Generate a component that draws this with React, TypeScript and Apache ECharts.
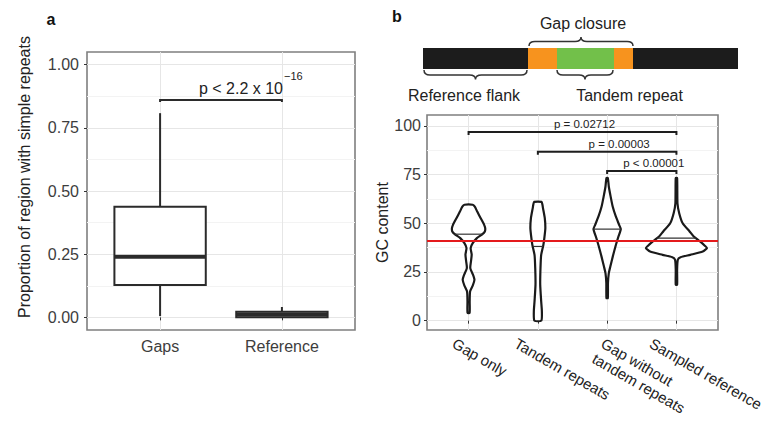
import React, { useEffect, useRef } from 'react';
import * as echarts from 'echarts';

// ---------- Panel a: boxplot data ----------
const boxCategories = ['Gaps', 'Reference'];
const boxMin = [0.005, 0.0];
const boxQ1 = [0.128, 0.0];
const boxMedian = [0.24, 0.011];
const boxQ3 = [0.438, 0.022];
const boxMax = [0.808, 0.041];
const boxYTicks = [0, 0.25, 0.5, 0.75, 1];
const boxYMinor = [0.125, 0.375, 0.625, 0.875];
const boxBracket = [1, 2, 0.86];
const boxPText = 'p < 2.2 x 10';
const boxPExp = '\u221216';

// ---------- Panel b: violin data ----------
const violinCategories = ['Gap only', 'Tandem repeats', 'Gap without\ntandem repeats', 'Sampled reference'];
// [GC content, half width (category units)]
const gapOnlyProfile = [[59.5, 0.06], [58.5, 0.09], [56, 0.125], [52.6, 0.175], [49.2, 0.225], [47.5, 0.24], [45.8, 0.235], [44.4, 0.2], [42.4, 0.12], [39.8, 0.06], [37.3, 0.03], [34, 0.045], [30.5, 0.035], [27, 0.025], [23, 0.07], [21, 0.085], [18, 0.06], [15, 0.022], [10, 0.016], [4, 0.015]];
const tandemProfile = [[61, 0.053], [59.5, 0.066], [57.8, 0.074], [52.6, 0.1], [47.5, 0.108], [43.2, 0.096], [39, 0.08], [33.8, 0.048], [27, 0.038], [18.5, 0.034], [9.9, 0.048], [4.8, 0.058], [0, 0.05]];
const gapWithoutProfile = [[73.2, 0.01], [68.9, 0.024], [63.8, 0.05], [58.6, 0.08], [53.5, 0.125], [49.2, 0.173], [47, 0.197], [43.2, 0.163], [38.1, 0.12], [33, 0.082], [27.8, 0.046], [24.4, 0.024], [19.3, 0.012], [11.6, 0.01]];
const sampledProfile = [[73.2, 0.01], [60.3, 0.015], [55.2, 0.04], [50, 0.09], [45.8, 0.19], [43.2, 0.25], [40.7, 0.34], [38.5, 0.41], [37.3, 0.44], [35.5, 0.38], [33.8, 0.2], [32.6, 0.06], [31.3, 0.02], [26.2, 0.01], [18.5, 0.01]];
const violinProfiles = [gapOnlyProfile, tandemProfile, gapWithoutProfile, sampledProfile];
const violinMedians = [44.4, 38.1, 47, 42.4];
const referenceGC = 40.9;
const gcTicks = [0, 25, 50, 75, 100];
const gcMinor = [12.5, 37.5, 62.5, 87.5];
const bracketStart = [1, 2, 3];
const bracketEnd = [4, 4, 4];
const bracketY = [96.9, 86.7, 76.9];
const bracketLabels = ['p = 0.02712', 'p = 0.00003', 'p < 0.00001'];

// ---------- layout / style ----------
const FONT = '"Liberation Sans", Arial, sans-serif';
const TEXT = '#222';
const TICK_TEXT = '#3d3d3d';
const GRID = '#e6e6e6';
const GRID_MINOR = '#f3f3f3';
const BORDER = '#7f7f7f';
const LINE = '#2b2b2b';
const xLabelNudge = [-10.4, -17.8, -0.4, -21.1];
const A_Y = [-0.05, 1.05];
const B_Y = [-4.8, 105.6];

function braceD(x0: number, x1: number, yEnd: number, yLine: number, yTip: number) {
  const xm = (x0 + x1) / 2;
  const r = 6;
  return `M${x0} ${yEnd} Q${x0} ${yLine} ${x0 + r} ${yLine} L${xm - r} ${yLine} Q${xm} ${yLine} ${xm} ${yTip} Q${xm} ${yLine} ${xm + r} ${yLine} L${x1 - r} ${yLine} Q${x1} ${yLine} ${x1} ${yEnd}`;
}
echarts.graphic.registerShape('braceGap', echarts.graphic.extendPath(braceD(529, 633, 46, 41.5, 37), {}) as any);
echarts.graphic.registerShape('braceFlank', echarts.graphic.extendPath(braceD(424, 527, 70, 75, 79.5), {}) as any);
echarts.graphic.registerShape('braceTandem', echarts.graphic.extendPath(braceD(557, 613, 70, 75, 79.5), {}) as any);

function interpWidth(prof: number[][], y: number) {
  for (let k = 0; k < prof.length - 1; k++) {
    const [y0, w0] = prof[k];
    const [y1, w1] = prof[k + 1];
    if (y <= y0 && y >= y1) {
      const t = (y0 - y) / (y0 - y1 || 1);
      return w0 + (w1 - w0) * t;
    }
  }
  return 0;
}

function valueAxisBase(font = 16) {
  return {
    type: 'value',
    axisLine: { show: false },
    axisTick: { show: true, length: 3, lineStyle: { color: '#333', width: 1 } },
    axisLabel: { color: TICK_TEXT, fontSize: font, fontFamily: FONT },
    splitLine: { show: true, lineStyle: { color: GRID, width: 1 } },
  };
}

function minorAxis(gridIndex: number, range: number[], values: number[]) {
  return {
    type: 'value',
    gridIndex,
    min: range[0],
    max: range[1],
    position: 'right',
    axisLine: { show: false },
    axisTick: { show: false, customValues: values },
    axisLabel: { show: false },
    splitLine: { show: true, lineStyle: { color: GRID_MINOR, width: 1 } },
  };
}

export default function App() {
  const ref = useRef<HTMLDivElement>(null);
  useEffect(() => {
    if (!ref.current) return;
    const chart = echarts.init(ref.current, undefined, { renderer: 'svg' });
    const option: any = {
      animation: false,
      backgroundColor: '#ffffff',
      grid: [
        { left: 87, top: 52, width: 268, height: 278, show: true, borderColor: BORDER, borderWidth: 1.6, backgroundColor: '#fff' },
        { left: 427, top: 115, width: 291, height: 215, show: true, borderColor: BORDER, borderWidth: 1.6, backgroundColor: '#fff' },
      ],
      xAxis: [
        {
          ...valueAxisBase(),
          gridIndex: 0,
          min: 0.4,
          max: 2.6,
          axisTick: { show: true, length: 3, customValues: [1, 2], lineStyle: { color: '#333' } },
          axisLabel: {
            color: TICK_TEXT, fontSize: 16, fontFamily: FONT, margin: 8,
            customValues: [1, 2],
            formatter: (v: number) => boxCategories[Math.round(v) - 1] || '',
          },
        },
        {
          ...valueAxisBase(),
          gridIndex: 1,
          min: 0.4,
          max: 4.6,
          axisTick: { show: true, length: 3, customValues: [1, 2, 3, 4], lineStyle: { color: '#333' } },
          axisLabel: { show: false },
        },
      ],
      yAxis: [
        {
          ...valueAxisBase(),
          gridIndex: 0,
          min: A_Y[0],
          max: A_Y[1],
          axisTick: { show: true, length: 3, customValues: boxYTicks, lineStyle: { color: '#333' } },
          axisLabel: {
            color: TICK_TEXT, fontSize: 16, fontFamily: FONT, margin: 8,
            customValues: boxYTicks,
            formatter: (v: number) => v.toFixed(2),
          },
          name: 'Proportion of region with simple repeats',
          nameLocation: 'middle',
          nameGap: 55,
          nameTextStyle: { color: TEXT, fontSize: 16, fontFamily: FONT, padding: [0, 0, 0, 28] },
        },
        minorAxis(0, A_Y, boxYMinor),
        {
          ...valueAxisBase(),
          gridIndex: 1,
          min: B_Y[0],
          max: B_Y[1],
          axisTick: { show: true, length: 3, customValues: gcTicks, lineStyle: { color: '#333' } },
          axisLabel: {
            color: TICK_TEXT, fontSize: 16, fontFamily: FONT, margin: 6,
            customValues: gcTicks,
            formatter: (v: number) => String(Math.round(v)),
          },
          name: 'GC content',
          nameLocation: 'middle',
          nameGap: 36,
          nameTextStyle: { color: TEXT, fontSize: 16, fontFamily: FONT },
        },
        minorAxis(1, B_Y, gcMinor),
      ],
      series: [
        {
          type: 'custom',
          name: 'box',
          xAxisIndex: 0,
          yAxisIndex: 0,
          clip: false,
          data: boxCategories.map((_, i) => [i + 1, boxMin[i], boxQ1[i], boxMedian[i], boxQ3[i], boxMax[i]]),
          renderItem: (params: any, api: any) => {
            const x = api.value(0);
            const hw = 0.375;
            const pMin = api.coord([x, api.value(1)]);
            const pQ1 = api.coord([x, api.value(2)]);
            const pMed = api.coord([x, api.value(3)]);
            const pQ3 = api.coord([x, api.value(4)]);
            const pMax = api.coord([x, api.value(5)]);
            const l = api.coord([x - hw, api.value(3)])[0];
            const r = api.coord([x + hw, api.value(3)])[0];
            const ls = { stroke: LINE, lineWidth: 2 };
            return {
              type: 'group',
              children: [
                { type: 'line', shape: { x1: pQ3[0], y1: pQ3[1], x2: pMax[0], y2: pMax[1] }, style: ls },
                { type: 'line', shape: { x1: pMin[0], y1: pMin[1], x2: pQ1[0], y2: pQ1[1] }, style: ls },
                { type: 'rect', shape: { x: l, y: pQ3[1], width: r - l, height: pQ1[1] - pQ3[1] }, style: { fill: '#fff', stroke: LINE, lineWidth: 2 } },
                { type: 'line', shape: { x1: l, y1: pMed[1], x2: r, y2: pMed[1] }, style: { stroke: LINE, lineWidth: 4 } },
              ],
            };
          },
        },
        {
          type: 'custom',
          name: 'bracketA',
          xAxisIndex: 0,
          yAxisIndex: 0,
          clip: false,
          data: [boxBracket],
          renderItem: (params: any, api: any) => {
            const p1 = api.coord([api.value(0), api.value(2)]);
            const p2 = api.coord([api.value(1), api.value(2)]);
            const cx = (p1[0] + p2[0]) / 2;
            return {
              type: 'group',
              children: [
                { type: 'polyline', shape: { points: [[p1[0], p1[1] + 2], [p1[0], p1[1]], [p2[0], p2[1]], [p2[0], p2[1] + 2]] }, style: { stroke: LINE, lineWidth: 2, fill: 'none' } },
                { type: 'text', x: cx + 62, y: p1[1] - 4, style: { text: boxPText, fill: TEXT, fontSize: 16, fontFamily: FONT, align: 'right', verticalAlign: 'bottom' } },
                { type: 'text', x: cx + 63, y: p1[1] - 30, style: { text: boxPExp, fill: TEXT, fontSize: 11, fontFamily: FONT, align: 'left', verticalAlign: 'top' } },
              ],
            };
          },
        },
        {
          type: 'custom',
          name: 'violins',
          xAxisIndex: 1,
          yAxisIndex: 2,
          clip: false,
          data: violinCategories.map((_, i) => [i + 1, violinMedians[i]]),
          renderItem: (params: any, api: any) => {
            const i = params.dataIndex;
            const x = api.value(0);
            const med = api.value(1);
            const prof = violinProfiles[i];
            const pts: number[][] = [];
            for (const [y, w] of prof) pts.push(api.coord([x + w, y]));
            for (let k = prof.length - 1; k >= 0; k--) pts.push(api.coord([x - prof[k][1], prof[k][0]]));
            const mw = interpWidth(prof, med);
            const m1 = api.coord([x - mw, med]);
            const m2 = api.coord([x + mw, med]);
            return {
              type: 'group',
              children: [
                { type: 'polygon', shape: { points: pts, smooth: 0.2 }, style: { fill: '#fff', stroke: '#1a1a1a', lineWidth: 2.2 } },
                { type: 'line', shape: { x1: m1[0], y1: m1[1], x2: m2[0], y2: m2[1] }, style: { stroke: '#333', lineWidth: 1.2 } },
              ],
            };
          },
          markLine: {
            silent: true,
            symbol: ['none', 'none'],
            label: { show: false },
            lineStyle: { color: '#e41a1c', width: 2, type: 'solid' },
            data: [{ yAxis: referenceGC }],
          },
        },
        {
          type: 'custom',
          name: 'bracketsB',
          xAxisIndex: 1,
          yAxisIndex: 2,
          clip: false,
          data: bracketStart.map((s, i) => [s, bracketEnd[i], bracketY[i]]),
          renderItem: (params: any, api: any) => {
            const i = params.dataIndex;
            const p1 = api.coord([api.value(0), api.value(2)]);
            const p2 = api.coord([api.value(1), api.value(2)]);
            const cx = (p1[0] + p2[0]) / 2;
            return {
              type: 'group',
              children: [
                { type: 'polyline', shape: { points: [[p1[0], p1[1] + 3], [p1[0], p1[1]], [p2[0], p2[1]], [p2[0], p2[1] + 3]] }, style: { stroke: '#1e1e1e', lineWidth: 2, fill: 'none' } },
                { type: 'text', x: cx + 12, y: p1[1] - 1.5, style: { text: bracketLabels[i], fill: TEXT, fontSize: 11.5, fontFamily: FONT, align: 'center', verticalAlign: 'bottom' } },
              ],
            };
          },
        },
        {
          type: 'custom',
          name: 'xLabelsB',
          xAxisIndex: 1,
          yAxisIndex: 2,
          clip: false,
          data: violinCategories.map((_, i) => [i + 1]),
          renderItem: (params: any, api: any) => {
            const i = params.dataIndex;
            const p = api.coord([api.value(0), B_Y[0]]);
            return {
              type: 'text',
              x: p[0] + xLabelNudge[i],
              y: p[1] + 4.5,
              rotation: -Math.PI / 6,
              style: { text: violinCategories[i], fill: TEXT, fontSize: 15, fontFamily: FONT, align: 'left', verticalAlign: 'top', lineHeight: 17.5 },
            };
          },
        },
      ],
      graphic: [
        { type: 'text', x: 51, y: 19, style: { text: 'a', fill: '#111', font: `bold 16px ${FONT}`, align: 'center', verticalAlign: 'middle' } },
        { type: 'text', x: 397, y: 16, style: { text: 'b', fill: '#111', font: `bold 16px ${FONT}`, align: 'center', verticalAlign: 'middle' } },
        { type: 'rect', shape: { x: 423, y: 48, width: 105, height: 21 }, style: { fill: '#1c1c1c' } },
        { type: 'rect', shape: { x: 528, y: 48, width: 29, height: 21 }, style: { fill: '#f7931e' } },
        { type: 'rect', shape: { x: 557, y: 48, width: 57, height: 21 }, style: { fill: '#72c04a' } },
        { type: 'rect', shape: { x: 614, y: 48, width: 19, height: 21 }, style: { fill: '#f7931e' } },
        { type: 'rect', shape: { x: 633, y: 48, width: 105, height: 21 }, style: { fill: '#1c1c1c' } },
        { type: 'braceGap', x: 0, y: 0, style: { fill: 'none', stroke: '#333', lineWidth: 1.5 } },
        { type: 'braceFlank', x: 0, y: 0, style: { fill: 'none', stroke: '#333', lineWidth: 1.5 } },
        { type: 'braceTandem', x: 0, y: 0, style: { fill: 'none', stroke: '#333', lineWidth: 1.5 } },
        { type: 'text', x: 583, y: 23, style: { text: 'Gap closure', fill: TEXT, fontSize: 16, fontFamily: FONT, align: 'center', verticalAlign: 'middle' } },
        { type: 'text', x: 464, y: 95, style: { text: 'Reference flank', fill: TEXT, fontSize: 16, fontFamily: FONT, align: 'center', verticalAlign: 'middle' } },
        { type: 'text', x: 629.5, y: 95, style: { text: 'Tandem repeat', fill: TEXT, fontSize: 16, fontFamily: FONT, align: 'center', verticalAlign: 'middle' } },
      ],
    };
    chart.setOption(option);
    return () => chart.dispose();
  }, []);
  return <div ref={ref} style={{ position: 'fixed', left: 0, top: 0, width: 778, height: 426 }} />;
}
